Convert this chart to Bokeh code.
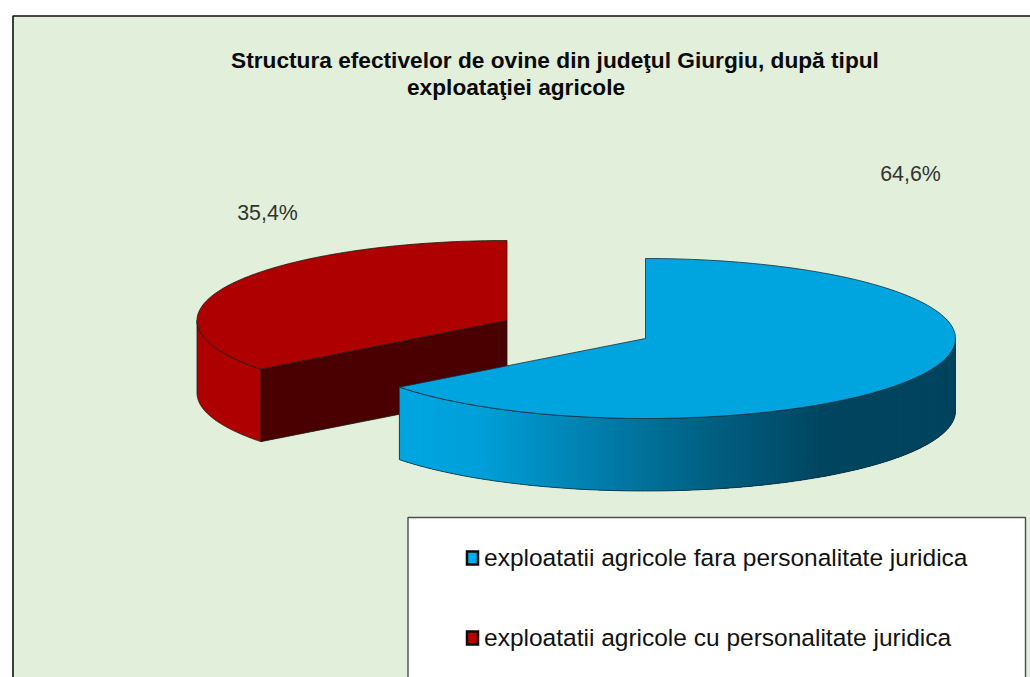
import math
from bokeh.plotting import figure
from bokeh.models import Range1d
from bokeh.core.properties import value
from bokeh.embed import file_html
from bokeh.resources import INLINE

# ---- data ----
categories = ["exploatatii agricole fara personalitate juridica",
              "exploatatii agricole cu personalitate juridica"]
shares = [64.6, 35.4]
title_lines = ["Structura efectivelor de ovine din judeţul Giurgiu, după tipul",
               "exploataţiei agricole"]
top_colors = ["#00A5E0", "#AE0000"]
marker_colors = ["#00AEEF", "#B80000"]

# ---- layout (page pixels) ----
W, H = 1030, 677
BG = "#E2EFDA"
FONT = value("Liberation Sans")
centers = [(645, 338), (506.5, 320)]
RX, RY, DEPTH = 310, 80, 72.5
label_pos = [(910, 173), (267, 212)]
cut_color = "#4A0000"
grad_stops = [(399, (0, 165, 224)), (475, (0, 160, 218)), (600, (0, 125, 170)),
              (700, (0, 98, 134)), (830, (0, 68, 94)), (956, (0, 68, 94))]

p = figure(width=W, height=H, output_backend="svg", toolbar_location=None,
           x_range=Range1d(0, W), y_range=Range1d(H, 0),
           min_border=0, outline_line_color=None, border_fill_color="white",
           background_fill_color="white")
p.axis.visible = False
p.grid.visible = False


def pt(c, th, dy=0.0):
    r = math.radians(th)
    return c[0] + RX * math.sin(r), c[1] - RY * math.cos(r) + dy


def arc(c, a, b, dy=0.0, n=160):
    pts = [pt(c, a + (b - a) * i / n, dy) for i in range(n + 1)]
    return [q[0] for q in pts], [q[1] for q in pts]


def grad(x):
    for (x0, c0), (x1, c1) in zip(grad_stops, grad_stops[1:]):
        if x <= x1:
            t = max(0.0, (x - x0) / (x1 - x0))
            return "#%02x%02x%02x" % tuple(round(u + (v - u) * t) for u, v in zip(c0, c1))
    return "#%02x%02x%02x" % grad_stops[-1][1]


# chart area
p.quad(left=[12.5], right=[W + 5], top=[15.5], bottom=[H + 5], fill_color=BG,
       line_color="#111111", line_width=1.6)

# angles from the shares, clockwise from 12 o'clock
angles = [0.0, shares[0] * 3.6, 360.0]
LINE = "#1c1c1c"
LW = 0.8

# --- second slice (behind) ---
c = centers[1]
a, b = angles[1], angles[2]
xa, ya = pt(c, a)
p.patch([c[0], xa, xa, c[0]], [c[1], ya, ya + DEPTH, c[1] + DEPTH],
        fill_color=cut_color, line_color=LINE, line_width=LW)
tx, ty = arc(c, a, 270)
bx, by = arc(c, a, 270, DEPTH)
p.patch(tx + bx[::-1], ty + by[::-1], fill_color=top_colors[1], line_color=LINE, line_width=LW)
tx, ty = arc(c, a, b)
p.patch([c[0]] + tx, [c[1]] + ty, fill_color=top_colors[1], line_color=LINE, line_width=LW)

# --- first slice ---
c = centers[0]
a, b = angles[0], angles[1]
# outer wall as overlapping shaded strips, painted from the right
steps = 170
ths = [90 + (b - 90) * i / steps for i in range(steps + 1)]
xs, ys, cols = [], [], []
for i in range(steps):
    t0, t1 = ths[i], ths[min(i + 4, steps)]
    tx, ty = arc(c, t0, t1, n=4)
    bx, by = arc(c, t0, t1, DEPTH, n=4)
    xs.append(tx + bx[::-1])
    ys.append(ty + by[::-1])
    cols.append(grad((pt(c, ths[i])[0] + pt(c, ths[i + 1])[0]) / 2))
p.patches(xs, ys, fill_color=cols, line_color=None)
tx, ty = arc(c, 90, b)
bx, by = arc(c, 90, b, DEPTH)
p.patch(tx + bx[::-1], ty + by[::-1], fill_color=None, line_color="#12303c", line_width=LW)
tx, ty = arc(c, a, b)
p.patch([c[0]] + tx, [c[1]] + ty, fill_color=top_colors[0], line_color="#12303c", line_width=LW)

# title
p.text(x=[230.5, 406.5], y=[59, 86], text=title_lines, text_font=FONT, text_font_style="bold",
       text_font_size="22.7px", text_color="#0a0a0a", text_baseline="middle")

# data labels
p.text(x=[q[0] for q in label_pos], y=[q[1] for q in label_pos],
       text=[f"{v:.1f}%".replace(".", ",") for v in shares], text_font=FONT,
       text_font_size="21.4px", text_color="#333333", text_align="center", text_baseline="middle")

# legend box
p.quad(left=[407.5], right=[1025], top=[517], bottom=[H + 5], fill_color="white",
       line_color="#4a4f4a", line_width=1.4)
p.quad(left=[466.5, 466.5], right=[477.5, 477.5], top=[551, 631], bottom=[564, 644],
       fill_color=marker_colors, line_color="#0a0a0a", line_width=2.5, line_join="miter")
p.text(x=[483.5, 483.5], y=[556.5, 636.5], text=categories, text_font=FONT, text_font_size="24.5px",
       text_color="#111111", text_baseline="middle")

open("out.html", "w").write(file_html(p, INLINE))
